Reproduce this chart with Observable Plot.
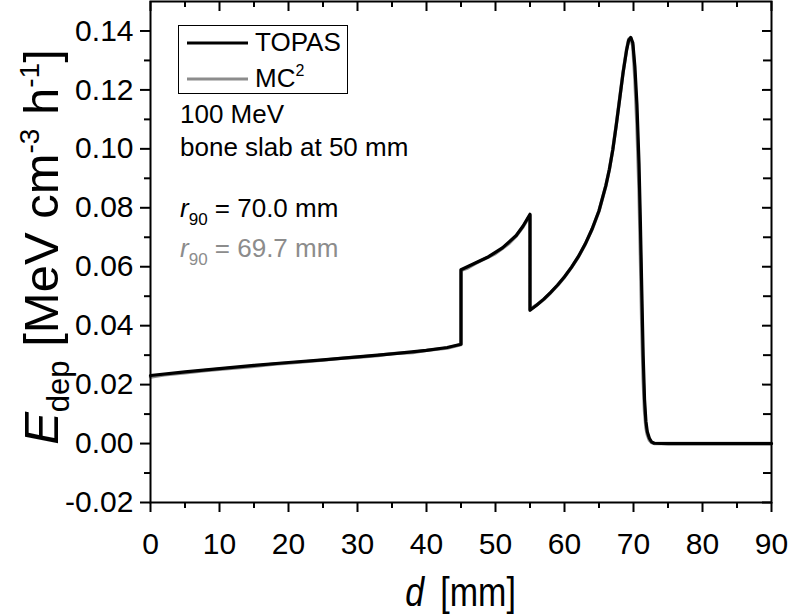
<!DOCTYPE html>
<html>
<head>
<meta charset="utf-8">
<script src="https://cdn.jsdelivr.net/npm/d3@7"></script>
<script src="https://cdn.jsdelivr.net/npm/@observablehq/plot@0.6"></script>
<style>
  html, body { margin: 0; padding: 0; background: #fff; }
  #chart { width: 790px; height: 616px; }
  svg { font-family: "Liberation Sans", Arial, sans-serif; }
</style>
</head>
<body>
<div id="chart"></div>
<script>
// ---- data ----
const topasDepth = [0, 5, 10, 15, 20, 25, 30, 35, 40, 43, 45, 45, 47, 49, 51, 53, 54, 55, 55, 56, 57, 58, 59, 60, 61, 62, 63, 64, 65, 66, 66.5, 67, 67.5, 68, 68.5, 69, 69.3, 69.6, 69.9, 70.2, 70.5, 70.8, 71.0, 71.2, 71.4, 71.6, 71.8, 72.0, 72.3, 72.6, 73, 75, 80, 90];
const topasEdep = [0.0231, 0.0243, 0.0254, 0.0265, 0.0275, 0.0284, 0.0294, 0.0304, 0.0316, 0.0326, 0.0337, 0.0590, 0.0612, 0.0634, 0.0664, 0.0706, 0.0738, 0.0778, 0.0452, 0.0470, 0.0490, 0.0513, 0.0538, 0.0566, 0.0598, 0.0634, 0.0677, 0.0728, 0.0790, 0.0876, 0.0930, 0.0997, 0.1080, 0.1170, 0.1260, 0.1335, 0.1368, 0.1378, 0.1360, 0.1280, 0.1150, 0.0950, 0.0750, 0.0520, 0.0300, 0.0150, 0.0075, 0.0040, 0.0018, 0.0006, 0.0001, 0, 0, 0];

const mc2Depth = [0, 2, 5, 8, 10, 13, 15, 18, 20, 23, 25, 28, 30, 33, 35, 38, 40, 43, 45, 45, 46, 47, 48, 49, 50, 51, 52, 53, 54, 55, 55, 56, 57, 58, 59, 60, 61, 62, 63, 64, 65, 66, 66.5, 67, 67.5, 68, 68.5, 69, 69.3, 69.6, 69.9, 70.2, 70.5, 70.8, 71.0, 71.2, 71.4, 71.6, 71.8, 72.0, 72.3, 72.6, 73, 75, 80, 90];
const mc2Edep = [0.0226, 0.0233, 0.0240, 0.0248, 0.0252, 0.0258, 0.0262, 0.0270, 0.0273, 0.0279, 0.0283, 0.0290, 0.0293, 0.0299, 0.0305, 0.0309, 0.0316, 0.0324, 0.0336, 0.0588, 0.0596, 0.0610, 0.0622, 0.0633, 0.0645, 0.0662, 0.0680, 0.0704, 0.0736, 0.0774, 0.0455, 0.0471, 0.0489, 0.0512, 0.0537, 0.0565, 0.0597, 0.0633, 0.0676, 0.0727, 0.0789, 0.0875, 0.0930, 0.0998, 0.1082, 0.1172, 0.1262, 0.1338, 0.1372, 0.1376, 0.1350, 0.1240, 0.1080, 0.0860, 0.0640, 0.0400, 0.0220, 0.0110, 0.0055, 0.0030, 0.0012, 0.0004, 0, 0, 0, 0];

const xMajor = [0, 10, 20, 30, 40, 50, 60, 70, 80, 90];
const xMinor = [5, 15, 25, 35, 45, 55, 65, 75, 85];
const xTickLabels = ["0", "10", "20", "30", "40", "50", "60", "70", "80", "90"];
const yMajor = [-0.02, 0, 0.02, 0.04, 0.06, 0.08, 0.10, 0.12, 0.14];
const yMinor = [-0.01, 0.01, 0.03, 0.05, 0.07, 0.09, 0.11, 0.13];
const yTickLabels = ["-0.02", "0.00", "0.02", "0.04", "0.06", "0.08", "0.10", "0.12", "0.14"];

const seriesNames = ["TOPAS", "MC2"];
const seriesColors = ["#000000", "#8c8c8c"];

// ---- layout ----
const W = 790, H = 616;
const mL = 150, mR = 19, mT = 1, mB = 114;
const fw = W - mL - mR, fh = H - mT - mB;
const FONT = '"Liberation Sans", Arial, sans-serif';

const topasData = topasDepth.map((d, i) => ({d, e: topasEdep[i]}));
const mc2Data = mc2Depth.map((d, i) => ({d, e: mc2Edep[i]}));

const chart = Plot.plot({
  width: W, height: H,
  marginLeft: mL, marginRight: mR, marginTop: mT, marginBottom: mB,
  x: {domain: [0, 90], axis: null},
  y: {domain: [-0.02, 0.15], axis: null},
  style: {fontFamily: FONT, background: "#fff", overflow: "visible"},
  marks: [
    Plot.line(mc2Data, {x: "d", y: "e", stroke: seriesColors[1], strokeWidth: 3.4, strokeLinejoin: "round"}),
    Plot.line(topasData, {x: "d", y: "e", stroke: seriesColors[0], strokeWidth: 3.2, strokeLinejoin: "round"}),
    // bottom ticks (outward)
    Plot.tickX(xMajor, {x: d => d, insetTop: fh, insetBottom: -10, stroke: "#000", strokeWidth: 2}),
    Plot.tickX(xMinor, {x: d => d, insetTop: fh, insetBottom: -6, stroke: "#000", strokeWidth: 2}),
    // top ticks (inward)
    Plot.tickX(xMajor, {x: d => d, insetTop: 0, insetBottom: fh - 10, stroke: "#000", strokeWidth: 2}),
    Plot.tickX(xMinor, {x: d => d, insetTop: 0, insetBottom: fh - 6, stroke: "#000", strokeWidth: 2}),
    // left ticks (outward)
    Plot.tickY(yMajor, {y: d => d, insetLeft: -10, insetRight: fw, stroke: "#000", strokeWidth: 2}),
    Plot.tickY(yMinor, {y: d => d, insetLeft: -6, insetRight: fw, stroke: "#000", strokeWidth: 2}),
    // right ticks (inward)
    Plot.tickY(yMajor, {y: d => d, insetLeft: fw - 9, insetRight: 0, stroke: "#000", strokeWidth: 2}),
    Plot.tickY(yMinor, {y: d => d, insetLeft: fw - 8, insetRight: 0, stroke: "#000", strokeWidth: 2}),
    Plot.frame({stroke: "#000", strokeWidth: 2}),
    // tick labels
    Plot.text(xMajor, {x: d => d, frameAnchor: "bottom", dy: 51, text: (d, i) => xTickLabels[i], fontSize: 30, fill: "#000"}),
    Plot.text(yMajor, {y: d => d, frameAnchor: "left", dx: -17, textAnchor: "end", text: (d, i) => yTickLabels[i], fontSize: 30, fill: "#000"})
  ]
});

document.getElementById("chart").appendChild(chart);

// ---- titles, legend, annotations (real text) ----
const svg = d3.select(chart);
const g = svg.append("g").attr("font-family", FONT).attr("fill", "#000").attr("text-anchor", "start");

// x title (slightly condensed, as in the reference)
const xt = g.append("text").attr("transform", `translate(${mL + fw / 2},606) scale(0.85,1)`).attr("text-anchor", "middle").attr("font-size", 40);
xt.append("tspan").attr("font-style", "italic").text("d");
xt.append("tspan").text("\u2009 [mm]");

// y title
const yt = g.append("text").attr("transform", `translate(58,${247}) rotate(-90)`).attr("text-anchor", "middle").attr("font-size", 49);
yt.append("tspan").attr("font-style", "italic").text("E");
yt.append("tspan").attr("font-size", 31).attr("dy", 11).text("dep");
yt.append("tspan").attr("dy", -11).text(" [MeV cm");
yt.append("tspan").attr("font-size", 28).attr("dy", -19).text("-3");
yt.append("tspan").attr("dy", 19).text(" h");
yt.append("tspan").attr("font-size", 28).attr("dy", -19).text("-1");
yt.append("tspan").attr("dy", 19).text("]");

// legend
const lg = g.append("g");
lg.append("rect").attr("x", 178.5).attr("y", 25.5).attr("width", 169).attr("height", 68).attr("fill", "#fff").attr("stroke", "#000").attr("stroke-width", 1);
lg.append("line").attr("x1", 187).attr("x2", 248).attr("y1", 43).attr("y2", 43).attr("stroke", seriesColors[0]).attr("stroke-width", 3.2);
lg.append("line").attr("x1", 187).attr("x2", 248).attr("y1", 79).attr("y2", 79).attr("stroke", seriesColors[1]).attr("stroke-width", 3.2);
lg.append("text").attr("x", 255).attr("y", 51).attr("font-size", 26).text(seriesNames[0]);
const mct = lg.append("text").attr("x", 255).attr("y", 87).attr("font-size", 26);
mct.append("tspan").text("MC");
mct.append("tspan").attr("font-size", 16).attr("dy", -11).text("2");

// annotations
g.append("text").attr("x", 180).attr("y", 123).attr("font-size", 26).text("100 MeV");
g.append("text").attr("x", 180).attr("y", 156).attr("font-size", 26).text("bone slab at 50 mm");
function r90(y, txt, color) {
  const t = g.append("text").attr("x", 180).attr("y", y).attr("font-size", 26).attr("fill", color);
  t.append("tspan").attr("font-style", "italic").text("r");
  t.append("tspan").attr("font-size", 17).attr("dy", 8).text("90");
  t.append("tspan").attr("dy", -8).text(" " + txt);
}
r90(217, "= 70.0 mm", "#000");
r90(257, "= 69.7 mm", "#8c8c8c");
</script>
</body>
</html>
